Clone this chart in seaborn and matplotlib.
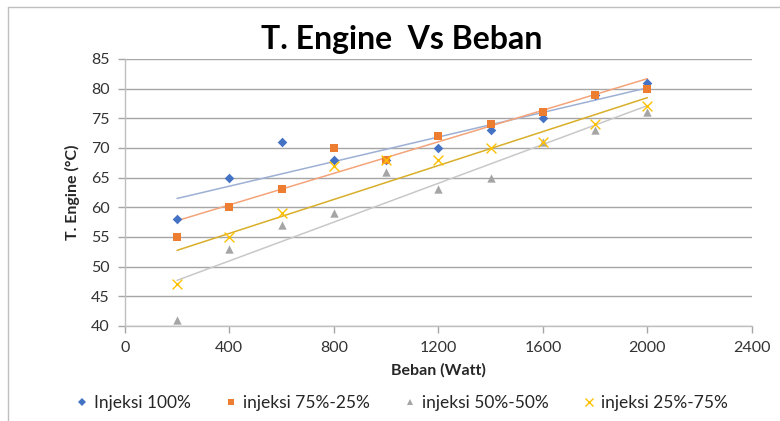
import numpy as np
import pandas as pd
import matplotlib
matplotlib.use('Agg')
import matplotlib.pyplot as plt
import seaborn as sns
from matplotlib.lines import Line2D

# data
beban = [200, 400, 600, 800, 1000, 1200, 1400, 1600, 1800, 2000]
inj_100 = [58, 65, 71, 68, 68, 70, 73, 75, 79, 81]
inj_75_25 = [55, 60, 63, 70, 68, 72, 74, 76, 79, 80]
inj_50_50 = [41, 53, 57, 59, 66, 63, 65, 71, 73, 76]
inj_25_75 = [47, 55, 59, 67, 68, 68, 70, 71, 74, 77]

labels = ["Injeksi 100%", "injeksi 75%-25%", "injeksi 50%-50%", "injeksi 25%-75%"]
series = [inj_100, inj_75_25, inj_50_50, inj_25_75]
colors = ["#4472C4", "#ED7D31", "#A5A5A5", "#FFC000"]
trend_colors = ["#9DB0D4", "#F4A47A", "#C8C8C8", "#D9AE2A"]
markers = ["D", "s", "^", "x"]
msizes = [24, 36, 36, 50]

sns.set_theme(style="white")
plt.rcParams['font.family'] = ['Lato', 'DejaVu Sans']

fig = plt.figure(figsize=(7.8, 4.21), dpi=100)
ax = fig.add_axes([0.160, 0.226, 0.804, 0.634])

# trendlines first, markers on top
for ys, tc in zip(series, trend_colors):
    df = pd.DataFrame({"x": beban, "y": ys})
    sns.regplot(data=df, x="x", y="y", ax=ax, scatter=False, ci=None,
                truncate=True, line_kws={"color": tc, "lw": 1.1, "zorder": 2})

for ys, c, m, s in zip(series, colors, markers, msizes):
    df = pd.DataFrame({"x": beban, "y": ys})
    if m == "x":
        sns.scatterplot(data=df, x="x", y="y", ax=ax, marker=m, color=c,
                        s=s, linewidth=1.0, zorder=3)
    else:
        sns.scatterplot(data=df, x="x", y="y", ax=ax, marker=m, color=c,
                        s=s, linewidth=0, zorder=3)

ax.set_xlim(0, 2400)
ax.set_ylim(40, 85)
ax.set_xticks(range(0, 2401, 400))
ax.set_yticks(range(40, 86, 5))
ax.yaxis.grid(True, color="#A6A6A6", lw=1)
ax.xaxis.grid(False)
ax.set_axisbelow(True)
for side in ["top", "right"]:
    ax.spines[side].set_visible(False)
for side in ["left", "bottom"]:
    ax.spines[side].set_color("#BFBFBF")
    ax.spines[side].set_linewidth(1)
ax.tick_params(axis="both", which="both", direction="out", length=5, width=1,
               color="#A6A6A6", labelsize=11.5, labelcolor="#333333", pad=6,
               left=True, bottom=True)

ax.set_xlabel("Beban (Watt)", fontsize=11.5, fontweight="bold", labelpad=6)
ax.set_ylabel("T. Engine (°C)", fontsize=11.5, fontweight="bold", labelpad=8)
fig.text(0.515, 0.905, "T. Engine  Vs Beban", ha="center", va="center",
         fontsize=23, fontweight="bold", color="black")

handles = [Line2D([], [], ls="none", marker=m, color=c, markersize=ms,
                  markeredgewidth=(1 if m == "x" else 0))
           for c, m, ms in zip(colors, markers, [4, 5, 5, 6])]
fig.legend(handles, labels, loc="center", bbox_to_anchor=(0.515, 0.043),
           ncol=4, frameon=False, fontsize=12.5, handletextpad=0.3,
           columnspacing=1.9, handlelength=0.8)

# outer chart frame (top and left edges visible in the reference)
fig.add_artist(Line2D([0.010, 1.0], [0.983, 0.983], transform=fig.transFigure,
                      color="#BFBFBF", lw=1))
fig.add_artist(Line2D([0.010, 0.010], [0.0, 0.983], transform=fig.transFigure,
                      color="#BFBFBF", lw=1))

fig.savefig("out.png", dpi=100)
